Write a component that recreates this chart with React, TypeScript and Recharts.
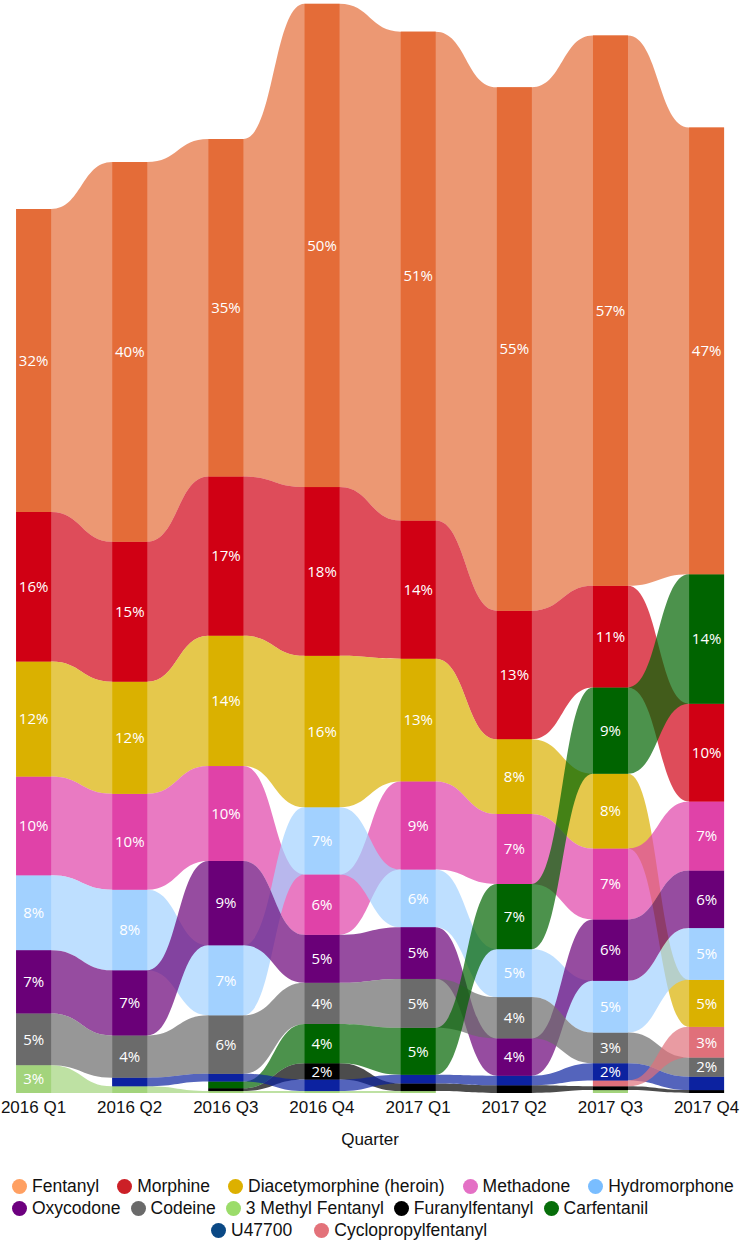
import React from "react";
import {
  ComposedChart,
  Area,
  Bar,
  Cell,
  LabelList,
  XAxis,
  YAxis,
} from "recharts";

const quarters = [
  "2016 Q1",
  "2016 Q2",
  "2016 Q3",
  "2016 Q4",
  "2017 Q1",
  "2017 Q2",
  "2017 Q3",
  "2017 Q4",
];

const drugs = [
  "Fentanyl",
  "Morphine",
  "Diacetymorphine (heroin)",
  "Methadone",
  "Hydromorphone",
  "Oxycodone",
  "Codeine",
  "3 Methyl Fentanyl",
  "Furanylfentanyl",
  "Carfentanil",
  "U47700",
  "Cyclopropylfentanyl",
];

// % of samples per quarter (0 = not detected that quarter)
const fentanyl = [31.6, 39.6, 35.2, 50.4, 51.0, 54.6, 57.4, 46.6];
const morphine = [15.6, 14.6, 16.6, 17.6, 14.4, 13.4, 10.6, 10.2];
const heroin = [12.0, 11.7, 13.6, 15.8, 12.8, 7.8, 7.8, 4.9];
const methadone = [10.3, 10.0, 9.9, 6.3, 9.2, 7.3, 7.4, 7.2];
const hydromorphone = [7.8, 8.4, 7.3, 7.0, 6.0, 5.0, 5.4, 5.4];
const oxycodone = [6.6, 6.8, 8.8, 5.0, 5.4, 3.9, 6.4, 6.0];
const codeine = [5.4, 4.4, 6.1, 4.3, 5.1, 4.3, 3.2, 2.0];
const methylFentanyl = [2.9, 0.7, 0.2, 0.2, 0.2, 0, 0.3, 0];
const furanylfentanyl = [0, 0, 0.3, 1.7, 0.8, 0.8, 0.4, 0.3];
const carfentanil = [0, 0, 0.7, 4.1, 4.9, 6.8, 9.0, 13.5];
const u47700 = [0, 0.9, 0.8, 1.2, 0.9, 1.0, 1.8, 1.4];
const cyclopropylfentanyl = [0, 0, 0, 0, 0, 0, 0.6, 3.2];

const series = [
  fentanyl,
  morphine,
  heroin,
  methadone,
  hydromorphone,
  oxycodone,
  codeine,
  methylFentanyl,
  furanylfentanyl,
  carfentanil,
  u47700,
  cyclopropylfentanyl,
];

const barColors = [
  "#E46C38",
  "#D00014",
  "#DAB100",
  "#E042A8",
  "#A2D1FF",
  "#6A0078",
  "#6B6B6B",
  "#A3D47C",
  "#000000",
  "#006400",
  "#0C22A0",
  "#E0707A",
];

const legendColors = [
  "#FFA062",
  "#CC2027",
  "#DDB000",
  "#E470C5",
  "#79BDFF",
  "#6D007F",
  "#6A6A6A",
  "#9BDC6A",
  "#000000",
  "#076E0A",
  "#0B4985",
  "#E3727A",
];

const BAR_PX = 35;
const HALF = 0.182; // half bar width in quarter units
const SLOTS = drugs.length;

// per quarter: drugs ordered bottom -> top (smallest at the bottom)
const order = quarters.map((_, q) =>
  drugs
    .map((_, i) => i)
    .filter((i) => series[i][q] > 0)
    .sort((a, b) => series[a][q] - series[b][q] || b - a)
);

// stacked [low, high] of each drug in each quarter
const bands = drugs.map(() => quarters.map(() => null as null | [number, number]));
order.forEach((ids, q) => {
  let acc = 0;
  ids.forEach((i) => {
    bands[i][q] = [acc, acc + series[i][q]];
    acc += series[i][q];
  });
});

const rows = quarters.map((_, q) => {
  const row: Record<string, any> = { x: q };
  for (let s = 0; s < SLOTS; s++) {
    const i = order[q][s];
    row[`s${s}`] = i === undefined ? 0 : series[i][q];
    row[`d${s}`] = i === undefined ? 0 : i;
    row[`t${s}`] =
      i !== undefined && series[i][q] >= 1.5 ? `${Math.round(series[i][q])}%` : "";
  }
  return row;
});

// ribbon points: flat across each bar, null where the drug is absent
const ribbons = drugs.map((_, i) => {
  const pts: { x: number; band: [number, number] | null }[] = [];
  quarters.forEach((_, q) => {
    const b = bands[i][q];
    if (b) {
      pts.push({ x: q - HALF, band: b });
      pts.push({ x: q + HALF, band: b });
    } else {
      pts.push({ x: q, band: null });
    }
  });
  return pts;
});

// keeps the bar centred on its quarter but always BAR_PX wide
const WideBar = (props: any) => {
  const { x, y, width, height, fill } = props;
  if (!height) return <g />;
  const cx = x + width / 2;
  return <rect x={cx - BAR_PX / 2} y={y} width={BAR_PX} height={height} fill={fill} />;
};

const legendRows = [
  { names: drugs.slice(0, 5), gap: 18, indent: 0 },
  { names: drugs.slice(5, 10), gap: 10, indent: 0 },
  { names: drugs.slice(10), gap: 22, indent: 199 },
];

export default function App() {
  return (
    <div
      style={{
        position: "absolute",
        left: 0,
        top: 0,
        width: 742,
        background: "#fff",
        fontFamily: "'Liberation Sans', Arial, sans-serif",
      }}
    >
      <ComposedChart
        width={740}
        height={1153}
        data={rows}
        margin={{ top: 0, right: 0, bottom: 0, left: 0 }}
      >
        <XAxis
          dataKey="x"
          type="number"
          domain={[-0.3485, 7.3485]}
          allowDataOverflow
          ticks={[0, 1, 2, 3, 4, 5, 6, 7]}
          interval={0}
          tickFormatter={(v) => quarters[v]}
          axisLine={false}
          tickLine={false}
          height={60}
          tick={{ fontSize: 17, fill: "#111", fontFamily: "'Liberation Sans', Arial" }}
          label={{
            value: "Quarter",
            position: "insideBottom",
            offset: 8,
            fontSize: 17,
            fill: "#111",
            fontFamily: "'Liberation Sans', Arial",
          }}
        />
        <YAxis type="number" domain={[0, 114]} allowDataOverflow hide />
        {ribbons.map((pts, i) => (
          <Area
            key={drugs[i]}
            data={pts}
            dataKey="band"
            type="bumpX"
            fill={barColors[i]}
            fillOpacity={0.7}
            stroke="none"
            connectNulls={false}
            dot={false}
            activeDot={false}
            isAnimationActive={false}
          />
        ))}
        {Array.from({ length: SLOTS }, (_, s) => (
          <Bar
            key={`slot${s}`}
            dataKey={`s${s}`}
            stackId="q"
            barSize={BAR_PX}
            shape={WideBar}
            isAnimationActive={false}
          >
            {rows.map((r, q) => (
              <Cell key={q} fill={barColors[r[`d${s}`]]} />
            ))}
            <LabelList
              dataKey={`t${s}`}
              position="center"
              fill="#fff"
              fontSize={15}
              fontFamily="'Open Sans', sans-serif"
            />
          </Bar>
        ))}
      </ComposedChart>
      <div style={{ marginTop: 22, paddingLeft: 12 }}>
        {legendRows.map((row, r) => (
          <div
            key={r}
            style={{
              display: "flex",
              alignItems: "center",
              gap: row.gap,
              height: 22,
              marginLeft: row.indent,
            }}
          >
            {row.names.map((name) => {
              const i = drugs.indexOf(name);
              return (
                <div key={name} style={{ display: "flex", alignItems: "center" }}>
                  <span
                    style={{
                      display: "inline-block",
                      width: 15,
                      height: 15,
                      borderRadius: "50%",
                      background: legendColors[i],
                      marginRight: 5,
                    }}
                  />
                  <span style={{ fontSize: 17.5, color: "#111" }}>{name}</span>
                </div>
              );
            })}
          </div>
        ))}
      </div>
    </div>
  );
}
